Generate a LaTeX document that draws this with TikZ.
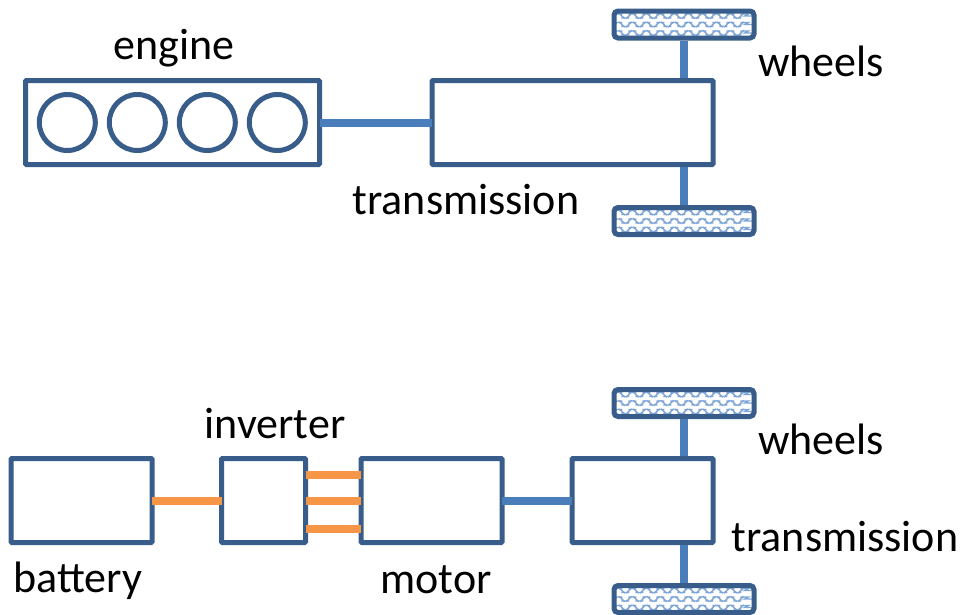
\documentclass[tikz,border=0pt]{standalone}
\usepackage{fontspec}
\setmainfont{Carlito}
\usetikzlibrary{decorations.pathmorphing}
\definecolor{boxblue}{HTML}{385D8A}
\definecolor{axleblue}{HTML}{4A7EBB}
\definecolor{wireorange}{HTML}{F79646}
\definecolor{waveblue}{HTML}{7FA6D6}
\begin{document}
\begin{tikzpicture}[x=1pt,y=-1pt]
    \tikzstyle{every node}=[inner sep=0,font=\fontsize{44}{44}\selectfont]
    \tikzstyle{block}=[draw=boxblue,line width=5pt,outer sep=0,fill=white,rectangle,rounded corners=1pt]
    \tikzstyle{cylinder}=[draw=boxblue,line width=5pt,circle,minimum size=56pt]
    \tikzstyle{tyre}=[block,minimum width=140pt,minimum height=27pt,rounded corners=4pt,
        path picture={
            \foreach \dy in {-8.5,0,8.5}
                \draw[waveblue,line width=1.4pt,decorate,decoration={snake,segment length=14pt,amplitude=2pt}]
                    ([yshift=\dy pt]path picture bounding box.west) -- ([yshift=\dy pt]path picture bounding box.east);
        }]
    \tikzstyle{axle}=[axleblue,line width=8pt]
    \tikzstyle{stub}=[axle,shorten >=2.5pt,shorten <=2.5pt]
    \tikzstyle{wire}=[wireorange,line width=8pt]
    \useasboundingbox (0,0) rectangle (964,614);
    {
        % engine car
        \node[block,minimum width=294pt,minimum height=84pt] (engine) at (172.5,122.5) {};
        \foreach \name/\x in {cyl1/67.3,cyl2/137.3,cyl3/207.3,cyl4/277.3}
            \node[cylinder] (\name) at (\x,122.5) {};
        \node[block,minimum width=281pt,minimum height=84pt] (trans1) at (572.5,122.5) {};
        \node[tyre] (tyre1) at (684,24.5) {};
        \node[tyre] (tyre2) at (684,221) {};

        % electric car
        \node[block,minimum width=141pt,minimum height=84pt] (battery) at (81.5,500.5) {};
        \node[block,minimum width=84pt,minimum height=84pt] (inverter) at (263.5,500.5) {};
        \node[block,minimum width=141pt,minimum height=84pt] (motor) at (431.5,500.5) {};
        \node[block,minimum width=141pt,minimum height=84pt] (trans2) at (642.5,500.5) {};
        \node[tyre] (tyre3) at (684,403) {};
        \node[tyre] (tyre4) at (684,599) {};

        \node (labelengine) at (174,48) {engine};
        \node (labelwheels1) at (821,61) {wheels};
        \node (labeltrans1) at (466,200) {transmission};
        \node (labelinverter) at (275,424) {inverter};
        \node (labelwheels2) at (821,439) {wheels};
        \node (labeltrans2) at (845,537) {transmission};
        \node (labelbattery) at (78,581) {battery};
        \node (labelmotor) at (436,580) {motor};

        \path[axle]
            (engine.east) edge (trans1.west)
            (motor.east) edge (trans2.west);

        \path[stub]
            (tyre1.south) edge (tyre1.south |- trans1.north)
            (tyre2.north) edge (tyre2.north |- trans1.south)
            (tyre3.south) edge (tyre3.south |- trans2.north)
            (tyre4.north) edge (tyre4.north |- trans2.south);

        \path[wire]
            (battery.east) edge (inverter.west)
            (inverter.east) edge (motor.west)
            ([yshift=25.5pt]inverter.east) edge ([yshift=25.5pt]motor.west)
            ([yshift=-28.5pt]inverter.east) edge ([yshift=-28.5pt]motor.west);
    }
\end{tikzpicture}
\end{document}
